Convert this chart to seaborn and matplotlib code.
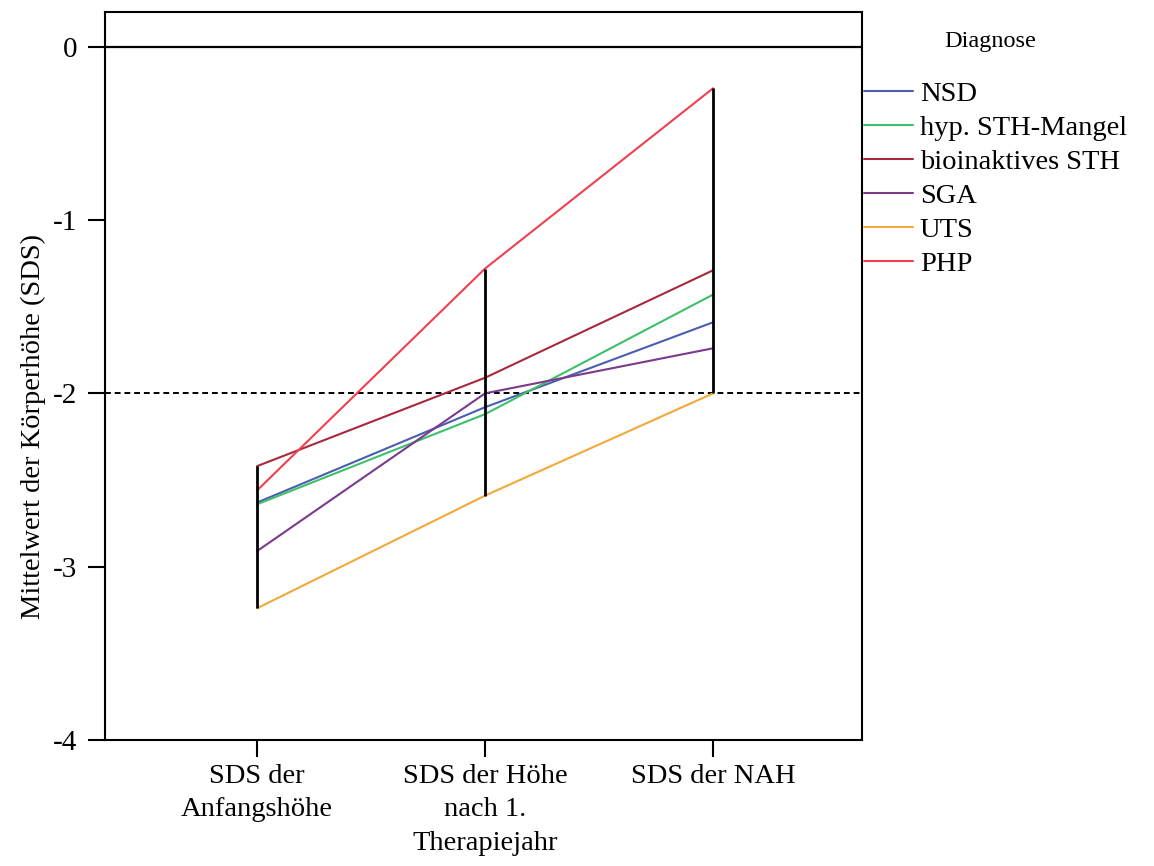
import numpy as np
import pandas as pd
import matplotlib
matplotlib.use("Agg")
import matplotlib.pyplot as plt
import seaborn as sns

categories = ["SDS der\nAnfangshöhe", "SDS der Höhe\nnach 1.\nTherapiejahr", "SDS der NAH"]
groups = ["NSD", "hyp. STH-Mangel", "bioinaktives STH", "SGA", "UTS", "PHP"]
nsd = [-2.63, -2.08, -1.59]
hyp = [-2.64, -2.12, -1.43]
bio = [-2.42, -1.91, -1.29]
sga = [-2.91, -2.00, -1.74]
uts = [-3.24, -2.59, -2.00]
php = [-2.56, -1.28, -0.24]
colors = ["#4a5fb0", "#3fbf6a", "#a8283f", "#7b3a8c", "#f2a93b", "#f0404f"]
yticks = [0, -1, -2, -3, -4]

series = [nsd, hyp, bio, sga, uts, php]
rows = []
for g, vals in zip(groups, series):
    for i, v in enumerate(vals):
        rows.append({"x": i, "y": v, "Diagnose": g})
df = pd.DataFrame(rows)

sns.set_style("white")
plt.rcParams["font.family"] = ["Liberation Serif", "DejaVu Serif"]
plt.rcParams["text.color"] = "black"
plt.rcParams["axes.labelcolor"] = "black"
plt.rcParams["xtick.color"] = "black"
plt.rcParams["ytick.color"] = "black"

FS = 20.5

fig = plt.figure(figsize=(11.54, 8.66), dpi=100)
ax = fig.add_axes([105/1154, 1-740/866, (862-105)/1154, (740-12)/866])

ax.axhline(0, color="black", lw=1.6, zorder=1)
ax.axhline(-2, color="black", lw=1.4, ls=(0, (3, 2)), zorder=1)

sns.lineplot(data=df, x="x", y="y", hue="Diagnose", palette=colors,
             hue_order=groups, ax=ax, lw=1.5, legend=True, zorder=2)

arr = np.array(series)
ax.vlines(range(len(categories)), arr.min(axis=0), arr.max(axis=0),
          color="black", lw=2, zorder=3)

ax.set_xlim(-0.667, 2.653)
ax.set_ylim(-4, 0.2)
ax.set_xticks(range(len(categories)))
ax.set_xticklabels(categories, fontsize=FS, linespacing=1.45)
ax.set_yticks(yticks)
ax.set_yticklabels([str(t) if t == 0 else "-" + str(abs(t)) for t in yticks], fontsize=21)
ax.set_xlabel("")
ax.set_ylabel("Mittelwert der Körperhöhe (SDS)", fontsize=FS)
ax.yaxis.set_label_coords(-0.078, 0.43)
ax.tick_params(axis="both", direction="out", length=12, width=1.5, color="black",
               labelcolor="black", left=True, bottom=True)
ax.tick_params(axis="y", pad=8)
ax.tick_params(axis="x", pad=5)
for s in ax.spines.values():
    s.set_color("black")
    s.set_linewidth(1.5)

leg = ax.legend(loc="upper left", bbox_to_anchor=(1.003, 0.905),
                frameon=False, fontsize=FS, handlelength=1.7,
                handletextpad=0.25, labelspacing=0.28, borderaxespad=0, borderpad=0)
for l in leg.get_lines():
    l.set_linewidth(1.5)
for t in leg.get_texts():
    t.set_color("black")
fig.text(990/1154, 1-42/866, "Diagnose", fontsize=17.5, ha="center", va="center",
         color="black")

fig.savefig("out.png", dpi=100)
